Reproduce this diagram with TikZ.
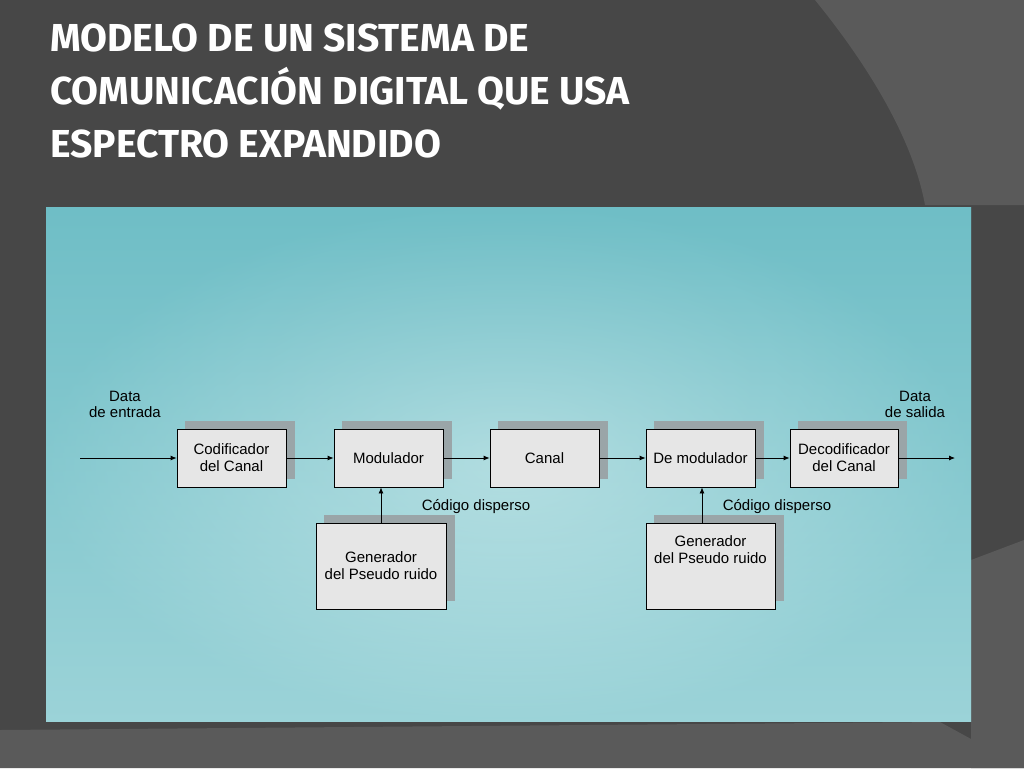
\documentclass[tikz,border=0pt]{standalone}
\usepackage{fontspec}
\setmainfont{Liberation Sans}
\newfontfamily\titlefont{Fira Sans}
\usetikzlibrary{arrows.meta}
\definecolor{slidebg}{HTML}{474747}
\definecolor{slidelight}{HTML}{5A5A5A}
\definecolor{boxfill}{HTML}{E6E6E6}
\definecolor{shadowgray}{HTML}{9AA5A8}
\definecolor{paneldark}{HTML}{6FBEC6}
\definecolor{panellight}{HTML}{C8E8EA}
\tikzset{blk/.style={rectangle, draw=black, thick, fill=boxfill, minimum width=109pt,
   minimum height=58pt, align=center, inner sep=1pt, font=\fontsize{15}{17}\selectfont}}
\tikzset{genblk/.style={blk, minimum width=130pt, minimum height=86pt}}
\tikzset{shd/.style={fill=shadowgray}}
\tikzset{lbl/.style={align=center, font=\fontsize{15}{16}\selectfont}}
\tikzset{sig/.style={thick, -{Latex[length=6pt,width=5pt]}}}

\begin{document}
\begin{tikzpicture}[x=1pt,y=-1pt]

    % slide background
    \fill[slidebg] (0,0) rectangle (1024,768);
    \fill[slidelight] (815,0) .. controls (880,80) and (915,150) .. (925,205) -- (1024,205) -- (1024,0) -- cycle;
    \fill[slidelight] (971,560) -- (1024,540) -- (1024,768) -- (971,768) -- cycle;
    \fill[slidelight] (0,730) -- (940,722) -- (1024,768) -- (0,768) -- cycle;
    \useasboundingbox (0,0) rectangle (1024,768);

    % panel
    \shade[inner color=panellight, outer color=paneldark]
       (46,207) rectangle (971,721);
    \shade[top color=paneldark, bottom color=panellight, opacity=0.5]
       (46,207) rectangle (971,721);

    % title
    \node[anchor=north west, text=white, align=left, inner sep=0pt,
       font=\titlefont\bfseries\fontsize{39}{53}\selectfont] (title) at (50,24)
       {MODELO DE UN SISTEMA DE\\COMUNICACIÓN DIGITAL QUE USA\\ESPECTRO EXPANDIDO};

    % shadows
    \foreach \x/\y/\w/\h in {177/429/109/58, 334/429/109/58, 490/429/109/58, 646/429/109/58,
       790/429/108/58, 316/523/130/86, 646/523/129/86}
       \fill[shd] (\x+8,\y-8) rectangle (\x+\w+9,\y+\h-8);

    % blocks
    \node[blk] (cod) at (231.5,458) {Codificador\\del Canal};
    \node[blk] (mod) at (388.5,458) {Modulador};
    \node[blk] (can) at (544.5,458) {Canal};
    \node[blk] (dem) at (700.5,458) {De modulador};
    \node[blk, minimum width=108pt] (dec) at (844,458) {Decodificador\\del Canal};
    \node[genblk] (gen1) at (381,566) {Generador\\del Pseudo ruido};
    \node[genblk, minimum width=129pt] (gen2) at (710.5,566) {Generador\\del Pseudo ruido\\[16pt]};

    \coordinate (in) at (80,458);
    \coordinate (out) at (955,458);

    % labels
    \node[lbl] (din) at (125,404) {Data\\de entrada};
    \node[lbl] (dout) at (915,404) {Data\\de salida};
    \node[lbl] (cd1) at (476,507) {Código disperso};
    \node[lbl] (cd2) at (777,507) {Código disperso};

    % signals
    \draw[sig] (in) -- (cod);
    \draw[sig] (cod) -- (mod);
    \draw[sig] (mod) -- (can);
    \draw[sig] (can) -- (dem);
    \draw[sig] (dem) -- (dec);
    \draw[sig] (dec) -- (out);
    \draw[sig] (gen1.north) -- (mod.south -| gen1.north);
    \draw[sig] (gen2.north -| 702,0) -- (dem.south -| 702,0);

  \end{tikzpicture}
\end{document}
